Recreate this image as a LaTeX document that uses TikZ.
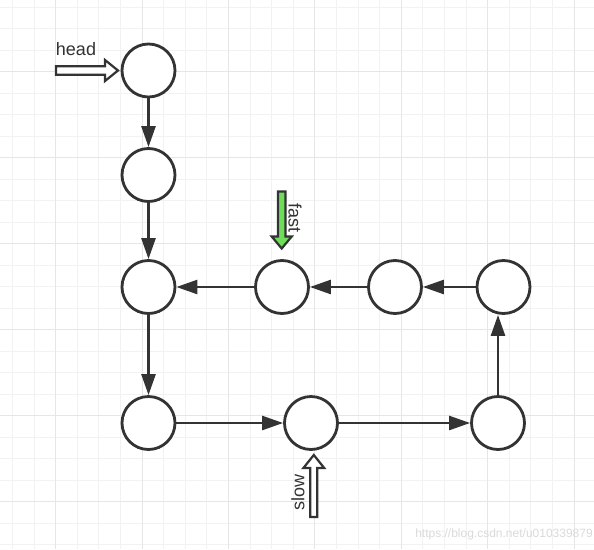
\documentclass[tikz,border=0pt]{standalone}
\usepackage{fontspec}
\setmainfont{Liberation Sans}
\usetikzlibrary{arrows.meta}
\definecolor{ink}{HTML}{333333}
\definecolor{gridminor}{HTML}{F2F2F2}
\definecolor{gridmajor}{HTML}{E6E6E6}
\definecolor{fastgreen}{RGB}{110,222,90}
\definecolor{wmark}{HTML}{DADADA}
\tikzset{
  listnode/.style={circle, draw=ink, line width=2.8pt, fill=white, minimum size=53pt, inner sep=0pt},
  link/.style={draw=ink, line width=2.5pt, -{Triangle[length=21pt,width=14pt]}},
  pointer/.style={draw=ink, line width=2.2pt, line join=miter},
  lbl/.style={text=ink, font=\fontsize{18}{21}\selectfont, inner sep=0pt}
}
\begin{document}
\begin{tikzpicture}[x=1pt,y=-1pt]
\useasboundingbox (0,0) rectangle (594,549);
\fill[white] (0,0) rectangle (594,549);
% grid
\foreach \k in {0,...,26} {
  \pgfmathsetmacro{\gx}{round(12+21.6*\k)+0.5}
  \draw[gridminor, line width=1.2pt] (\gx,0) -- (\gx,549);
}
\foreach \k in {0,...,25} {
  \pgfmathsetmacro{\gy}{round(6.5+21.5*\k)+0.5}
  \draw[gridminor, line width=1.2pt] (0,\gy) -- (594,\gy);
}
\foreach \k in {0,...,6} {
  \pgfmathsetmacro{\gx}{round(55.2+86.4*\k)+0.5}
  \draw[gridmajor, line width=1.5pt] (\gx,0) -- (\gx,549);
}
\foreach \k in {0,...,5} {
  \pgfmathsetmacro{\gy}{round(71+86*\k)+0.5}
  \draw[gridmajor, line width=1.5pt] (0,\gy) -- (594,\gy);
}
% nodes
\node[listnode] (n1) at (148.5,70.5) {};
\node[listnode] (n2) at (148.5,175) {};
\node[listnode] (n3) at (148.5,287) {};
\node[listnode] (n4) at (148.5,423) {};
\node[listnode] (s)  at (311,423) {};
\node[listnode] (br) at (498,423) {};
\node[listnode] (tr) at (503.5,287) {};
\node[listnode] (m)  at (395,287) {};
\node[listnode] (f)  at (282,287) {};
% links
\draw[link] (n1) -- (n2);
\draw[link] (n2) -- (n3);
\draw[link] (n3) -- (n4);
\draw[link] (n4) -- (s);
\draw[link] (s) -- (br);
\draw[link] (br.north) -- (br.north |- tr.south);
\draw[link] (tr) -- (m);
\draw[link] (m) -- (f);
\draw[link] (f) -- (n3);
% pointers
\draw[pointer, fill=white] (56,66.3) -- (105,66.3) -- (105,60) -- (118,70.5) -- (105,81) -- (105,74.7) -- (56,74.7) -- cycle;
\node[lbl] (headlbl) at (76,49) {head};
\draw[pointer, fill=fastgreen] (277.9,191.5) -- (285.5,191.5) -- (285.5,236.5) -- (291.7,236.5) -- (281.7,248.5) -- (271.7,236.5) -- (277.9,236.5) -- cycle;
\node[lbl, rotate=-90] (fastlbl) at (295,218) {fast};
\draw[pointer, fill=white] (310.3,517) -- (317.3,517) -- (317.3,468) -- (324.2,468) -- (313.8,455) -- (303.4,468) -- (310.3,468) -- cycle;
\node[lbl, rotate=90] (slowlbl) at (298,492) {slow};
% watermark
\node[text=wmark, font=\fontsize{12}{14}\selectfont, inner sep=0pt] (wm) at (504,534) {https://blog.csdn.net/u010339879};
\end{tikzpicture}
\end{document}
